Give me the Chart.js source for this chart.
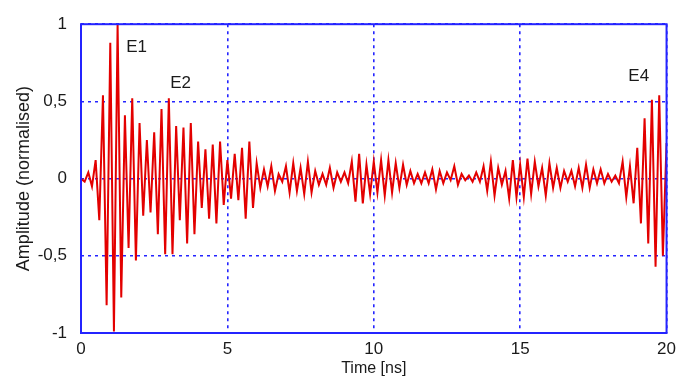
<!DOCTYPE html>
<html>
<head>
    <title>Amplitude vs Time</title>
    <script src="https://cdn.jsdelivr.net/npm/chart.js"></script>
    <style>
        body { margin: 0; background: #fff; }
        #wrap { width: 682px; height: 379px; }
    </style>
</head>
<body>
    <div id="wrap"><canvas id="sigChart"></canvas></div>
    <script>
        // sample times [ns]
        const times = [
            0, 0.125, 0.25, 0.375, 0.5, 0.625, 0.75, 0.875,
            1, 1.125, 1.25, 1.375, 1.5, 1.625, 1.75, 1.875,
            2, 2.125, 2.25, 2.375, 2.5, 2.625, 2.75, 2.875,
            3, 3.125, 3.25, 3.375, 3.5, 3.625, 3.75, 3.875,
            4, 4.125, 4.25, 4.375, 4.5, 4.625, 4.75, 4.875,
            5, 5.125, 5.25, 5.375, 5.5, 5.625, 5.75, 5.875,
            6, 6.125, 6.25, 6.375, 6.5, 6.625, 6.75, 6.875,
            7, 7.125, 7.25, 7.375, 7.5, 7.625, 7.75, 7.875,
            8, 8.125, 8.25, 8.375, 8.5, 8.625, 8.75, 8.875,
            9, 9.125, 9.25, 9.375, 9.5, 9.625, 9.75, 9.875,
            10, 10.125, 10.25, 10.375, 10.5, 10.625, 10.75, 10.875,
            11, 11.125, 11.25, 11.375, 11.5, 11.625, 11.75, 11.875,
            12, 12.125, 12.25, 12.375, 12.5, 12.625, 12.75, 12.875,
            13, 13.125, 13.25, 13.375, 13.5, 13.625, 13.75, 13.875,
            14, 14.125, 14.25, 14.375, 14.5, 14.625, 14.75, 14.875,
            15, 15.125, 15.25, 15.375, 15.5, 15.625, 15.75, 15.875,
            16, 16.125, 16.25, 16.375, 16.5, 16.625, 16.75, 16.875,
            17, 17.125, 17.25, 17.375, 17.5, 17.625, 17.75, 17.875,
            18, 18.125, 18.25, 18.375, 18.5, 18.625, 18.75, 18.875,
            19, 19.125, 19.25, 19.375, 19.5, 19.625, 19.75, 19.875,
            20
        ];

        // normalised amplitude
        const amplitude = [
            0.00, -0.02, 0.04, -0.05, 0.12, -0.27, 0.54, -0.82,
            0.88, -0.99, 1.00, -0.77, 0.41, -0.45, 0.52, -0.53,
            0.36, -0.24, 0.25, -0.22, 0.30, -0.36, 0.45, -0.49,
            0.52, -0.49, 0.34, -0.27, 0.33, -0.42, 0.36, -0.36,
            0.24, -0.19, 0.19, -0.26, 0.22, -0.29, 0.24, -0.17,
            0.12, -0.13, 0.16, -0.14, 0.20, -0.26, 0.24, -0.19,
            0.10, -0.06, 0.06, -0.05, 0.08, -0.08, 0.03, -0.02,
            0.08, -0.09, 0.10, -0.08, 0.07, -0.10, 0.11, -0.09,
            0.05, -0.04, 0.03, -0.04, 0.07, -0.06, 0.04, -0.02,
            0.04, -0.03, 0.11, -0.15, 0.16, -0.16, 0.09, -0.10,
            0.11, -0.09, 0.12, -0.11, 0.12, -0.09, 0.10, -0.06,
            0.09, -0.04, 0.05, -0.03, 0.03, -0.03, 0.04, -0.03,
            0.06, -0.07, 0.05, -0.03, 0.04, -0.01, 0.08, -0.04,
            0.03, -0.01, 0.02, -0.02, 0.04, -0.02, 0.08, -0.08,
            0.11, -0.11, 0.07, -0.04, 0.05, -0.13, 0.12, -0.12,
            0.09, -0.12, 0.13, -0.10, 0.11, -0.05, 0.07, -0.11,
            0.10, -0.06, 0.07, -0.06, 0.05, -0.02, 0.05, -0.05,
            0.07, -0.06, 0.09, -0.06, 0.06, -0.03, 0.06, -0.03,
            0.03, -0.02, 0.02, -0.03, 0.11, -0.12, 0.08, -0.16,
            0.20, -0.29, 0.39, -0.42, 0.51, -0.57, 0.54, -0.50,
            0.23
        ];

        const xTickValues = [0, 5, 10, 15, 20];
        const xTickLabels = ['0', '5', '10', '15', '20'];
        const yTickValues = [-1, -0.5, 0, 0.5, 1];
        const yTickLabels = ['-1', '-0,5', '0', '0,5', '1'];

        // echo labels: text, time, amplitude
        const echoNames = ['E1', 'E2', 'E4'];
        const echoTimes = [1.9, 3.4, 19.05];
        const echoAmps = [0.85, 0.62, 0.66];

        const blue = '#2424ff';
        const textColor = '#1a1a1a';
        const fontFamily = '"Liberation Sans", Arial, sans-serif';

        const points = times.map((t, i) => ({ x: t, y: amplitude[i] }));

        const gridOpts = {
            color: blue,
            lineWidth: 1.6,
            drawTicks: false
        };

        // frame round the plot area + echo labels
        const framePlugin = {
            id: 'frame',
            afterDatasetsDraw(chart) {
                const ctx = chart.ctx;
                const a = chart.chartArea;
                const xs = chart.scales.x, ys = chart.scales.y;
                ctx.save();
                ctx.strokeStyle = blue;
                ctx.lineWidth = 2;
                ctx.strokeRect(a.left, a.top, a.right - a.left, a.bottom - a.top);
                ctx.fillStyle = textColor;
                ctx.font = '17px ' + fontFamily;
                ctx.textAlign = 'center';
                ctx.textBaseline = 'middle';
                echoNames.forEach((n, i) => {
                    ctx.fillText(n, xs.getPixelForValue(echoTimes[i]), ys.getPixelForValue(echoAmps[i]));
                });
                ctx.restore();
            }
        };

        new Chart(document.getElementById('sigChart').getContext('2d'), {
            type: 'line',
            data: {
                datasets: [{
                    data: points,
                    borderColor: '#e30000',
                    borderWidth: 2,
                    pointRadius: 0,
                    tension: 0,
                    fill: false
                }]
            },
            options: {
                responsive: true,
                maintainAspectRatio: false,
                animation: false,
                events: [],
                layout: { padding: { top: 20, right: 9, left: 0, bottom: 0 } },
                plugins: { legend: { display: false }, tooltip: { enabled: false } },
                scales: {
                    x: {
                        type: 'linear',
                        min: 0,
                        max: 20,
                        afterBuildTicks: s => { s.ticks = xTickValues.map(v => ({ value: v })); },
                        afterFit: s => { s.height = 46; },
                        border: { display: false, dash: [3, 4] },
                        grid: gridOpts,
                        ticks: {
                            padding: 6,
                            color: textColor,
                            font: { family: fontFamily, size: 17 },
                            maxRotation: 0,
                            callback: v => xTickLabels[xTickValues.indexOf(v)]
                        },
                        title: {
                            display: true,
                            text: 'Time [ns]',
                            color: textColor,
                            font: { family: fontFamily, size: 16 },
                            padding: { top: 0, bottom: 1 }
                        }
                    },
                    y: {
                        min: -1,
                        max: 1,
                        afterBuildTicks: s => { s.ticks = yTickValues.map(v => ({ value: v })); },
                        afterFit: s => { s.width = 81; },
                        border: { display: false, dash: [3, 4] },
                        grid: gridOpts,
                        ticks: {
                            padding: 14,
                            color: textColor,
                            font: { family: fontFamily, size: 17 },
                            callback: v => yTickLabels[yTickValues.indexOf(v)]
                        },
                        title: {
                            display: true,
                            text: 'Amplitude (normalised)',
                            color: textColor,
                            font: { family: fontFamily, size: 18 },
                            padding: { top: 13, bottom: 0 }
                        }
                    }
                }
            },
            plugins: [framePlugin]
        });
    </script>
</body>
</html>
